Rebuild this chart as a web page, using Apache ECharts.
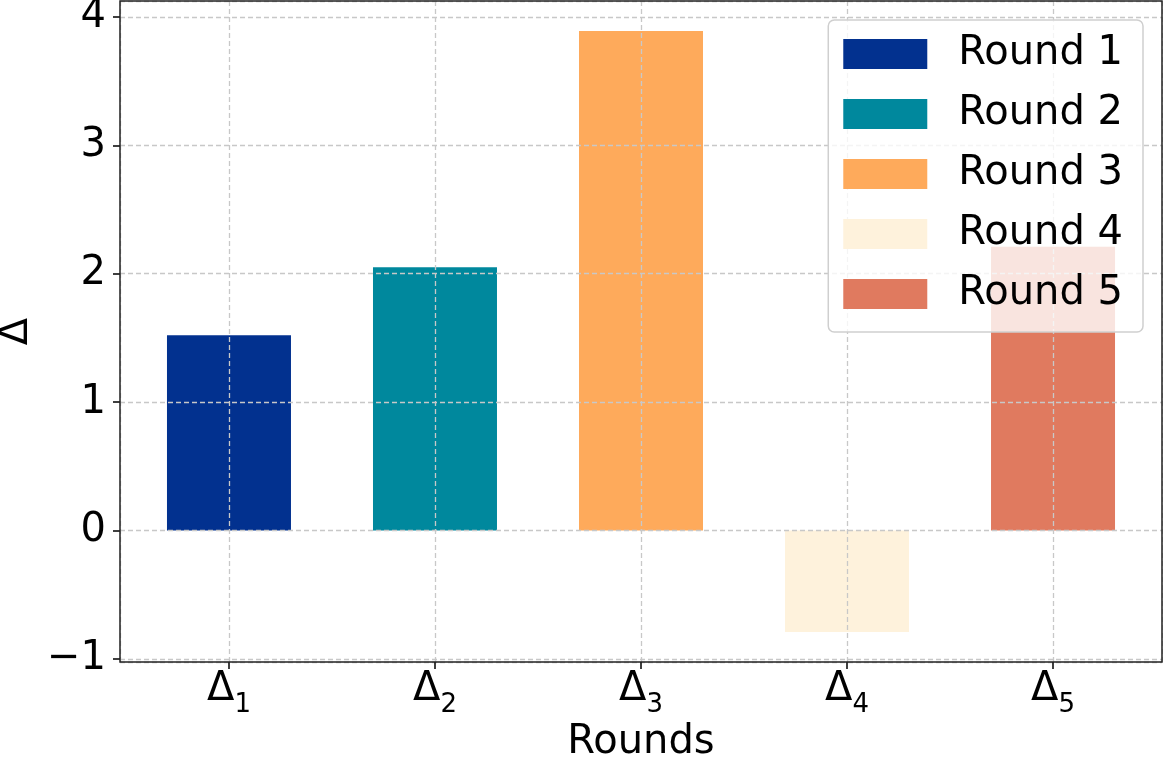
<!DOCTYPE html>
<html>
<head>
<meta charset="utf-8">
<script src="https://cdn.jsdelivr.net/npm/echarts@6/dist/echarts.min.js"></script>
<style>
html,body{margin:0;padding:0;background:#fff;}
#chart{width:1163px;height:762px;}
</style>
</head>
<body>
<div id="chart"></div>
<script>
const seriesNames = ['Round 1', 'Round 2', 'Round 3', 'Round 4', 'Round 5'];
const subscripts = ['1', '2', '3', '4', '5'];
const values = [1.52, 2.05, 3.89, -0.79, 2.21];
const colors = ['#02318F', '#00889D', '#FEAA5B', '#FEF2DC', '#E07A5F'];

const FONT = 'DejaVu Sans';
const chart = echarts.init(document.getElementById('chart'), null, {renderer: 'canvas'});

const series = seriesNames.map((name, i) => ({
  name: name,
  type: 'bar',
  data: [[i, values[i]]],
  barWidth: 124,
  barGap: '-100%',
  itemStyle: {color: colors[i]},
  emphasis: {disabled: true},
  z: 2
}));

const gridLine = {show: true, lineStyle: {color: '#c8c8c8', type: [5, 3], width: 1.3}};

chart.setOption({
  animation: false,
  grid: {left: 120, right: 1, top: 1, bottom: 100, show: true, borderColor: '#222', borderWidth: 1.5,
         backgroundColor: 'transparent', containLabel: false, outerBoundsMode: 'none', z: 4},
  xAxis: {
    type: 'value',
    min: -0.529, max: 4.529,
    z: 3,
    name: 'Rounds',
    nameLocation: 'middle',
    nameGap: 54,
    nameTextStyle: {fontFamily: FONT, fontSize: 40, color: '#000'},
    axisLine: {show: false, onZero: false},
    axisTick: {show: true, length: 7, lineStyle: {color: '#000', width: 1.5}},
    splitLine: gridLine,
    axisLabel: {
      showMinLabel: false, showMaxLabel: false,
      margin: 8,
      formatter: function (v) {
        const i = Math.round(v);
        if (Math.abs(v - i) > 1e-6 || i < 0 || i >= subscripts.length) return '';
        return '{d|Δ}{s|' + subscripts[i] + '}';
      },
      rich: {
        d: {fontFamily: FONT, fontSize: 40, color: '#000', lineHeight: 40},
        s: {fontFamily: FONT, fontSize: 26, color: '#000', lineHeight: 26, verticalAlign: 'bottom', padding: [0, 0, -8, 0]}
      }
    }
  },
  yAxis: {
    type: 'value',
    min: -1.024, max: 4.124,
    z: 3,
    name: 'Δ',
    nameLocation: 'middle',
    nameGap: 83,
    nameTextStyle: {fontFamily: FONT, fontSize: 40, color: '#000'},
    axisLine: {show: false, onZero: false},
    axisTick: {show: true, length: 7, lineStyle: {color: '#000', width: 1.5}},
    splitLine: gridLine,
    axisLabel: {
      showMinLabel: false, showMaxLabel: false,
      margin: 14,
      fontFamily: FONT, fontSize: 40, color: '#000',
      formatter: function (v) {
        const r = Math.round(v);
        if (Math.abs(v - r) > 1e-6) return '';
        return r < 0 ? '\u2212' + (-r) : String(r);
      }
    }
  },
  legend: {
    orient: 'vertical',
    right: 20, top: 20,
    icon: 'rect',
    itemWidth: 84, itemHeight: 30, itemGap: 20,
    selectedMode: false,
    backgroundColor: 'rgba(255,255,255,0.8)',
    borderColor: '#cfcfcf', borderWidth: 1.5, borderRadius: 6,
    padding: [14, 20, 18, 15],
    textStyle: {fontFamily: FONT, fontSize: 40, color: '#000', lineHeight: 24, padding: [6, 0, 0, 26]},
    data: seriesNames,
    z: 5
  },
  series: series
});
</script>
</body>
</html>
